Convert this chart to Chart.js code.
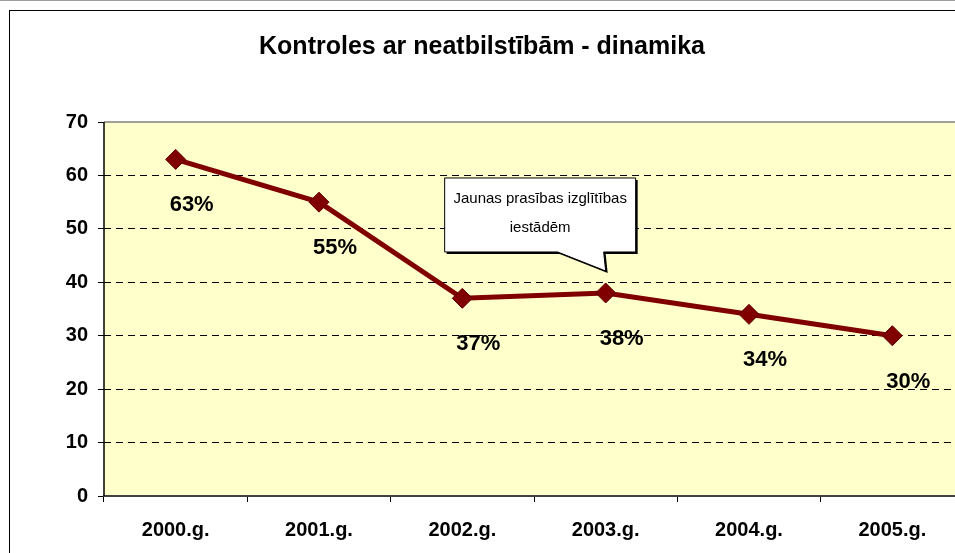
<!DOCTYPE html>
<html>
<head>
<meta charset="utf-8">
<script src="https://cdn.jsdelivr.net/npm/chart.js@4.4.1/dist/chart.umd.min.js"></script>
<style>
html,body{margin:0;padding:0;background:#fff;overflow:hidden;width:955px;height:553px;}
#topline{position:absolute;left:0;top:0;width:955px;height:1px;background:#a0a0a0;}
#frame{position:absolute;left:9px;top:10px;width:1000px;height:600px;border-left:1.5px solid #000;border-top:1.5px solid #000;}
#wrap{position:absolute;left:0;top:0;width:975px;height:553px;}
</style>
</head>
<body>
<div id="topline"></div>
<div id="frame"></div>
<div id="wrap"><canvas id="c" width="975" height="553"></canvas></div>
<script>
const categories = ['2000.g.', '2001.g.', '2002.g.', '2003.g.', '2004.g.', '2005.g.'];
const values = [63, 55, 37, 38, 34, 30];
const valueLabels = ['63%', '55%', '37%', '38%', '34%', '30%'];
const yTicks = [0, 10, 20, 30, 40, 50, 60, 70];
const titleText = 'Kontroles ar neatbilstībām - dinamika';
const calloutLines = ['Jaunas prasības izglītības', 'iestādēm'];
const calloutIndex = 3;

const FONT = "'Liberation Sans', Arial, sans-serif";

const bgPlugin = {
  id: 'bg',
  beforeDraw(chart) {
    const {ctx, chartArea: a} = chart;
    ctx.save();
    ctx.fillStyle = '#FFFFCC';
    ctx.fillRect(a.left, a.top, a.right - a.left, a.bottom - a.top);
    ctx.restore();
  },
  afterDraw(chart) {
    const {ctx, chartArea: a} = chart;
    ctx.save();
    ctx.setLineDash([]);
    ctx.strokeStyle = '#808080';
    ctx.lineWidth = 1.5;
    ctx.beginPath();
    ctx.moveTo(a.left, a.top);
    ctx.lineTo(a.right, a.top);
    ctx.stroke();
    ctx.strokeStyle = '#000';
    ctx.lineWidth = 1.5;
    ctx.beginPath();
    ctx.moveTo(a.left, a.top);
    ctx.lineTo(a.left, a.bottom);
    ctx.stroke();
    ctx.restore();
  }
};

const labelPlugin = {
  id: 'vlabels',
  afterDatasetsDraw(chart) {
    const {ctx} = chart;
    const meta = chart.getDatasetMeta(0);
    ctx.save();
    ctx.font = 'bold 22px ' + FONT;
    ctx.fillStyle = '#000';
    ctx.textAlign = 'center';
    ctx.textBaseline = 'middle';
    meta.data.forEach((pt, i) => {
      ctx.fillText(valueLabels[i], pt.x + 16, pt.y + 46);
    });
    ctx.restore();
  }
};

const calloutPlugin = {
  id: 'callout',
  afterDatasetsDraw(chart) {
    const {ctx} = chart;
    const pt = chart.getDatasetMeta(0).data[calloutIndex];
    const tipX = pt.x, tipY = pt.y - 22;
    const L = tipX - 161, R = tipX + 30, T = tipY - 93, B = tipY - 19;
    const t1 = tipX - 48, t2 = tipX - 2;
    const path = (dx, dy) => {
      ctx.beginPath();
      ctx.moveTo(L + dx, T + dy);
      ctx.lineTo(R + dx, T + dy);
      ctx.lineTo(R + dx, B + dy);
      ctx.lineTo(t2 + dx, B + dy);
      ctx.lineTo(tipX + dx, tipY + dy);
      ctx.lineTo(t1 + dx, B + dy);
      ctx.lineTo(L + dx, B + dy);
      ctx.closePath();
    };
    ctx.save();
    ctx.setLineDash([]);
    path(2, 2);
    ctx.fillStyle = '#000';
    ctx.fill();
    path(0, 0);
    ctx.fillStyle = '#fff';
    ctx.fill();
    ctx.strokeStyle = '#000';
    ctx.lineWidth = 1;
    ctx.stroke();
    ctx.font = '15px ' + FONT;
    ctx.fillStyle = '#000';
    ctx.textAlign = 'center';
    ctx.textBaseline = 'middle';
    const cx = (L + R) / 2;
    ctx.fillText(calloutLines[0], cx, T + 21);
    ctx.fillText(calloutLines[1], cx, T + 50);
    ctx.restore();
  }
};

new Chart(document.getElementById('c'), {
  type: 'line',
  data: {
    labels: categories,
    datasets: [{
      data: values,
      borderColor: '#800000',
      backgroundColor: '#800000',
      borderWidth: 5,
      pointStyle: 'rectRot',
      pointRadius: 10,
      pointHoverRadius: 10,
      pointBorderColor: '#600000',
      pointBorderWidth: 1,
      tension: 0,
      clip: false
    }]
  },
  options: {
    responsive: false,
    animation: false,
    events: [],
    layout: { padding: { left: 0, right: 11, top: 0, bottom: 0 } },
    plugins: {
      legend: { display: false },
      tooltip: { enabled: false },
      title: {
        display: true,
        text: titleText,
        color: '#000',
        font: { family: FONT, size: 25, weight: 'bold' },
        padding: { top: 32, bottom: 60 }
      }
    },
    scales: {
      x: {
        type: 'category',
        offset: true,
        grid: {
          offset: true,
          drawOnChartArea: false,
          drawTicks: true,
          tickLength: 6,
          color: '#000'
        },
        border: { display: true, color: '#404040', width: 2 },
        ticks: {
          color: '#000',
          font: { family: FONT, size: 20, weight: 'bold' },
          padding: 16,
          maxRotation: 0
        },
        afterFit(s) { s.height = 57; }
      },
      y: {
        min: 0,
        max: 70,
        afterBuildTicks(s) { s.ticks = yTicks.map(v => ({ value: v })); },
        grid: {
          color: (c) => (c.tick && (c.tick.value === 70 || c.tick.value === 0)) ? 'rgba(0,0,0,0)' : '#000',
          tickColor: '#000',
          tickBorderDash: [],
          tickLength: 6,
          lineWidth: 1
        },
        border: { display: false, dash: [7, 5] },
        ticks: {
          color: '#000',
          font: { family: FONT, size: 20, weight: 'bold' },
          padding: 10
        },
        afterFit(s) { s.width = 104; }
      }
    }
  },
  plugins: [bgPlugin, labelPlugin, calloutPlugin]
});
</script>
</body>
</html>
